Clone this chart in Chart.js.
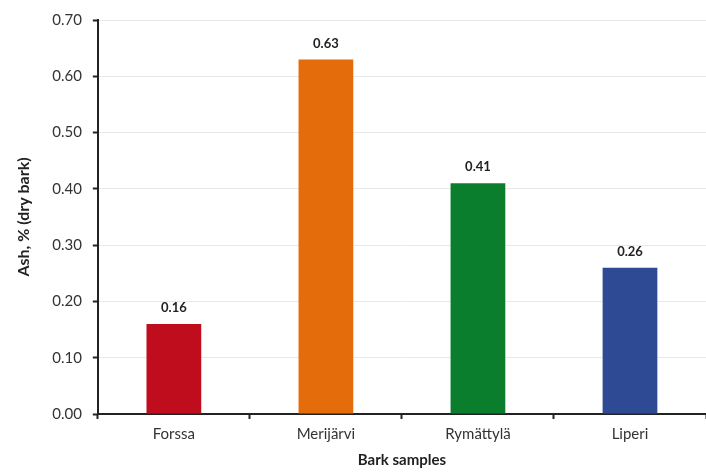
<!DOCTYPE html>
<html>
<head>
<meta charset="utf-8">
<script src="https://cdn.jsdelivr.net/npm/chart.js@4.4.0/dist/chart.umd.min.js"></script>
<style>
  html, body { margin: 0; padding: 0; background: #fff; }
  #wrap { width: 706px; height: 475px; }
</style>
</head>
<body>
<div id="wrap"><canvas id="barChart"></canvas></div>
<script>
// bark ash chart
const samples = ["Forssa", "Merijärvi", "Rymättylä", "Liperi"];
const ashValues = [0.16, 0.63, 0.41, 0.26];
const barColors = ["#C00D1E", "#E46C0A", "#0B7E2E", "#2E4A94"];

// value labels above bars
const valueLabels = {
  id: "valueLabels",
  afterDatasetsDraw(chart) {
    const ctx = chart.ctx;
    const meta = chart.getDatasetMeta(0);
    ctx.save();
    ctx.font = "bold 13px Lato";
    ctx.fillStyle = "#222";
    ctx.textAlign = "center";
    ctx.textBaseline = "middle";
    meta.data.forEach((bar, i) => {
      ctx.fillText(ashValues[i].toFixed(2), bar.x, bar.y - 16);
    });
    ctx.restore();
  },
};

const ctx = document.getElementById("barChart").getContext("2d");
new Chart(ctx, {
  type: "bar",
  data: {
    labels: samples,
    datasets: [
      {
        data: ashValues,
        backgroundColor: barColors,
        borderWidth: 0,
        barPercentage: 0.36,
        categoryPercentage: 1,
      },
    ],
  },
  options: {
    responsive: true,
    maintainAspectRatio: false,
    animation: false,
    layout: { padding: { top: 13, right: 0, left: 14, bottom: 6 } },
    plugins: {
      legend: { display: false },
      tooltip: { enabled: false },
    },
    scales: {
      x: {
        grid: {
          display: true,
          drawOnChartArea: false,
          offset: true,
          tickLength: 5,
          tickColor: "#222",
          tickWidth: 2,
        },
        border: { color: "#222", width: 2 },
        ticks: {
          color: "#333",
          padding: 6,
          font: { family: "Lato", size: 15 },
        },
        title: {
          display: true,
          text: "Bark samples",
          color: "#222",
          padding: { top: 2, bottom: 0 },
          font: { family: "Lato", size: 15, weight: "bold" },
        },
      },
      y: {
        min: 0,
        max: 0.7,
        grid: {
          color: "#e8e8e8",
          tickColor: "#222",
          tickLength: 5,
          tickWidth: 2,
        },
        border: { color: "#222", width: 2 },
        ticks: {
          stepSize: 0.1,
          color: "#333",
          padding: 11,
          font: { family: "Lato", size: 15 },
          callback: (v) => v.toFixed(2),
        },
        title: {
          display: true,
          text: "Ash, % (dry bark)",
          color: "#222",
          padding: { top: 0, bottom: 8 },
          font: { family: "Lato", size: 16, weight: "bold" },
        },
      },
    },
  },
  plugins: [valueLabels],
});
</script>
</body>
</html>
